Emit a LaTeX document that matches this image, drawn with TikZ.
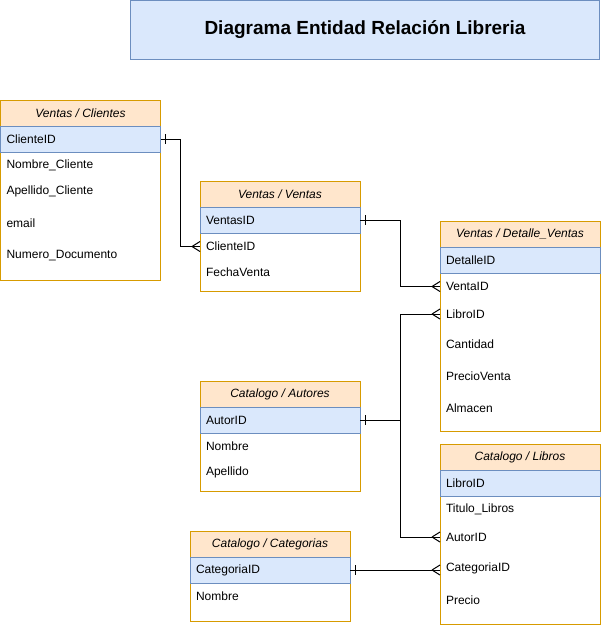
\documentclass[tikz,border=0pt]{standalone}
\usepackage{fontspec}
\setmainfont{Liberation Sans}
\usetikzlibrary{calc}
\definecolor{orst}{HTML}{D79B00}
\definecolor{orfill}{HTML}{FFE6CC}
\definecolor{blfill}{HTML}{DAE8FC}
\definecolor{blst}{HTML}{6C8EBF}
\tikzset{
  frame/.style={draw=orst, line width=1pt, minimum width=160, inner sep=0, outer sep=0, fill=white},
  hdr/.style={draw=orst, fill=orfill, line width=1pt, minimum width=160, minimum height=26, inner sep=0, outer sep=0, font=\fontsize{12}{14}\selectfont\itshape},
  keyrow/.style={draw=blst, fill=blfill, line width=1pt, minimum height=26, text width=148, inner xsep=6, inner ysep=0, outer sep=0, align=left, font=\fontsize{12}{14}\selectfont},
  row/.style={anchor=west, text width=148, inner xsep=6, inner ysep=0, outer sep=0, align=left, font=\fontsize{12}{14}\selectfont},
  conn/.style={draw=black, line width=1pt},
  titlebox/.style={draw=blst, fill=blfill, line width=1pt, minimum width=469, minimum height=59, inner sep=0, font=\fontsize{19}{22}\selectfont\bfseries}
}
\newcommand{\ertbl}[6]{%
  \node[frame, minimum height=#4, anchor=north west] (#1) at (#2,#3) {};
  \node[hdr, anchor=north west] (#1H) at (#2,#3) {#5};
  \node[keyrow, anchor=north west] (#1K) at (#2,#3+26) {#6};
}
\newcommand{\tickE}[1]{\draw[conn] ($(#1)+(5,-5)$) -- ($(#1)+(5,5)$);}
\newcommand{\crowW}[1]{\draw[conn] ($(#1)+(-8,0)$) -- ($(#1)+(0,-5)$) ($(#1)+(-8,0)$) -- ($(#1)+(0,5)$);}
\begin{document}
\begin{tikzpicture}[x=1pt,y=-1pt]
\useasboundingbox (0,0) rectangle (601,625);
\node[titlebox] (title) at (365,30) {Diagrama Entidad Relación Libreria};

% Clientes
\ertbl{cli}{0.5}{100}{180}{Ventas / Clientes}{ClienteID}
\node[row] (cliNom) at (0.5,165.5) {Nombre\_Cliente};
\node[row] (cliApe) at (0.5,191.5) {Apellido\_Cliente};
\node[row] (cliEma) at (0.5,223) {email};
\node[row] (cliNum) at (0.5,255.5) {Numero\_Documento};

% Ventas
\ertbl{ven}{200}{181}{110}{Ventas / Ventas}{VentasID}
\node[row] (venCli) at (200,246.5) {ClienteID};
\node[row] (venFec) at (200,272.5) {FechaVenta};

% Detalle Ventas
\ertbl{dv}{440}{221}{210}{Ventas / Detalle\_Ventas}{DetalleID}
\node[row] (dvVen) at (440,286.5) {VentaID};
\node[row] (dvLib) at (440,314) {LibroID};
\node[row] (dvCan) at (440,344.5) {Cantidad};
\node[row] (dvPre) at (440,376.5) {PrecioVenta};
\node[row] (dvAlm) at (440,408.5) {Almacen};

% Autores
\ertbl{aut}{200}{381}{110}{Catalogo / Autores}{AutorID}
\node[row] (autNom) at (200,446.5) {Nombre};
\node[row] (autApe) at (200,472.5) {Apellido};

% Libros
\ertbl{lib}{440}{444}{180}{Catalogo / Libros}{LibroID}
\node[row] (libTit) at (440,509.5) {Titulo\_Libros};
\node[row] (libAut) at (440,537) {AutorID};
\node[row] (libCat) at (440,568.5) {CategoriaID};
\node[row] (libPre) at (440,600) {Precio};

% Categorias
\ertbl{cat}{190}{531}{90}{Catalogo / Categorias}{CategoriaID}
\node[row] (catNom) at (190,596.5) {Nombre};

% connectors
\draw[conn] (cliK.east) -- ++(20,0) |- (venCli.west);
\tickE{cliK.east}
\crowW{venCli.west}

\draw[conn] (venK.east) -- ++(40,0) |- (dvVen.west);
\tickE{venK.east}
\crowW{dvVen.west}

\draw[conn] (autK.east) -- ++(40,0) |- (dvLib.west);
\draw[conn] (autK.east) -- ++(40,0) |- (libAut.west);
\tickE{autK.east}
\crowW{dvLib.west}
\crowW{libAut.west}

\coordinate (catEnd) at (catK.east -| libCat.west);
\draw[conn] (catK.east) -- (catEnd);
\tickE{catK.east}
\crowW{catEnd}
\end{tikzpicture}
\end{document}
